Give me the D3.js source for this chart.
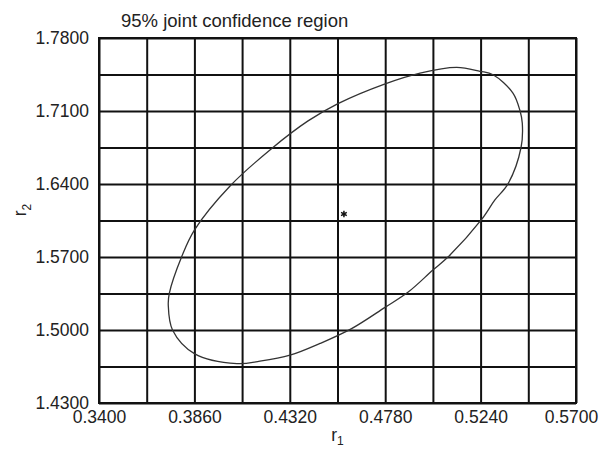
<!DOCTYPE html>
<html>
    <head>
        <meta charset="utf-8">
        <style>
            html, body {
                margin: 0px;
                padding: 0px;
                background-color: #fff;
                font-family: "Liberation Sans", Arial, sans-serif;
            }
            svg { display: block; }
            svg text { fill: #222; font-size: 17.5px; }
            .grid line { stroke: #111; stroke-width: 2px; }
            .grid .domain { display: none; }
            .axis .domain, .axis line { display: none; }
            .frame { fill: none; stroke: #111; stroke-width: 2px; }
            .region { fill: none; stroke: #333; stroke-width: 1.3px; }
        </style>
        <script src="https://cdn.jsdelivr.net/npm/d3@7"></script>
    </head>
    <body>
        <div id="main"></div>

        <script>
            // axis ticks (labelled) and grid lines
            var xTicks = [0.34, 0.386, 0.432, 0.478, 0.524, 0.57];
            var yTicks = [1.43, 1.50, 1.57, 1.64, 1.71, 1.78];
            var xGrid = [0.34, 0.363, 0.386, 0.409, 0.432, 0.455, 0.478, 0.501, 0.524, 0.547, 0.57];
            var yGrid = [1.43, 1.465, 1.50, 1.535, 1.57, 1.605, 1.64, 1.675, 1.71, 1.745, 1.78];

            // boundary of the 95% region
            var regionR1 = [0.3734, 0.3739, 0.3799, 0.3860, 0.4032, 0.4233, 0.4408,
                            0.4550, 0.4780, 0.4948, 0.5125, 0.5237, 0.5300, 0.5396, 0.5430, 0.5441, 0.5435,
                            0.5372, 0.5309, 0.5245, 0.5084, 0.5010, 0.4891, 0.4779, 0.4618, 0.4466, 0.4321,
                            0.4176, 0.4065, 0.3860, 0.3755];
            var regionR2 = [1.5240, 1.5351, 1.5704, 1.5958, 1.6381, 1.6741, 1.7005,
                            1.7169, 1.7361, 1.7464, 1.7518, 1.7481, 1.7448, 1.7272, 1.7102, 1.6984, 1.6750,
                            1.6401, 1.6247, 1.6060, 1.5702, 1.5575, 1.5364, 1.5217, 1.5013, 1.4871, 1.4758,
                            1.4701, 1.4678, 1.4774, 1.4998];

            // point estimate
            var estR1 = 0.4581;
            var estR2 = 1.6113;

            var width = 600;
            var height = 450;
            var margin = {top: 38, right: 24, bottom: 47, left: 99};

            function main() {
                var svg = d3.select("#main")
                            .append("svg")
                            .attr("width", width)
                            .attr("height", height);

                var x = d3.scaleLinear().domain([0.34, 0.57]).range([margin.left, width - margin.right]);
                var y = d3.scaleLinear().domain([1.43, 1.78]).range([height - margin.bottom, margin.top]);
                var fmt = d3.format(".4f");

                svg.append("g")
                    .attr("class", "grid")
                    .attr("transform", "translate(0," + (height - margin.bottom) + ")")
                    .call(d3.axisBottom(x).tickValues(xGrid).tickSize(-(height - margin.top - margin.bottom)).tickFormat(""));

                svg.append("g")
                    .attr("class", "grid")
                    .attr("transform", "translate(" + margin.left + ",0)")
                    .call(d3.axisLeft(y).tickValues(yGrid).tickSize(-(width - margin.left - margin.right)).tickFormat(""));

                svg.append("rect")
                    .attr("class", "frame")
                    .attr("x", margin.left)
                    .attr("y", margin.top)
                    .attr("width", width - margin.left - margin.right)
                    .attr("height", height - margin.top - margin.bottom);

                var xAxis = svg.append("g")
                    .attr("class", "axis")
                    .attr("transform", "translate(0," + (height - margin.bottom) + ")")
                    .call(d3.axisBottom(x).tickValues(xTicks).tickSize(0).tickPadding(8).tickFormat(fmt));
                xAxis.selectAll("text").style("font-size", "17.5px").attr("fill", "#222").attr("dy", "0.71em");
                xAxis.selectAll(".tick").filter(function(d, i) { return i === xTicks.length - 1; })
                    .select("text").attr("dx", -5);

                var yAxis = svg.append("g")
                    .attr("class", "axis")
                    .attr("transform", "translate(" + margin.left + ",0)")
                    .call(d3.axisLeft(y).tickValues(yTicks).tickSize(0).tickPadding(10).tickFormat(fmt));
                yAxis.selectAll("text").style("font-size", "17.5px").attr("fill", "#222");

                var pts = d3.zip(regionR1, regionR2);
                var line = d3.line()
                    .x(function(d) { return x(d[0]); })
                    .y(function(d) { return y(d[1]); })
                    .curve(d3.curveCatmullRomClosed);

                svg.append("path")
                    .attr("class", "region")
                    .attr("d", line(pts));

                svg.append("path")
                    .attr("transform", "translate(" + x(estR1) + "," + y(estR2) + ")")
                    .attr("d", d3.symbol().type(d3.symbolAsterisk).size(30)())
                    .attr("stroke", "#111")
                    .attr("stroke-width", 1.5)
                    .attr("fill", "none");

                svg.append("text")
                    .attr("x", 121)
                    .attr("y", 27)
                    .style("font-size", "18.5px")
                    .text("95% joint confidence region");

                var xl = svg.append("text")
                    .attr("x", (margin.left + width - margin.right) / 2)
                    .attr("y", 441)
                    .style("text-anchor", "middle");
                xl.append("tspan").text("r");
                xl.append("tspan").attr("dy", 4).style("font-size", "12px").text("1");

                var yl = svg.append("text")
                    .attr("transform", "translate(26,210) rotate(-90)")
                    .style("text-anchor", "middle");
                yl.append("tspan").text("r");
                yl.append("tspan").attr("dy", 5).style("font-size", "12px").text("2");
            }

            main();
        </script>
    </body>
</html>
